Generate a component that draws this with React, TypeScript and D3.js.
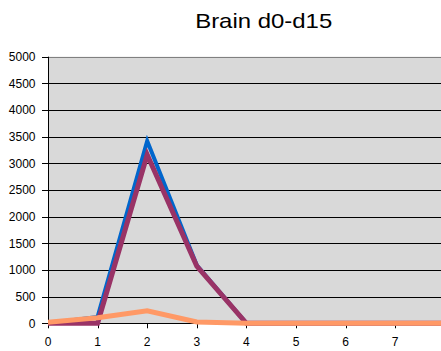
import React from "react";
import * as d3 from "d3";

// Days sampled (x axis) and the three measured series
const days = [0, 1, 2, 3, 4, 5, 6, 7, 8, 9];
const seriesBlue = [0, 120, 3420, 1090, 0, 0, 0, 0, 0, 0];
const seriesPurple = [0, 0, 3160, 1070, 0, 0, 0, 0, 0, 0];
const seriesOrange = [20, 105, 235, 25, 0, 0, 0, 0, 0, 0];
const yTicks = [0, 500, 1000, 1500, 2000, 2500, 3000, 3500, 4000, 4500, 5000];
const xTicks = [0, 1, 2, 3, 4, 5, 6, 7];
const title = "Brain d0-d15";

const W = 441;
const H = 351;
const left = 48;
const top = 56.7;
const bottom = 323.3;
const step = 49.6;

export default function App() {
  const x = d3.scaleLinear().domain([0, 1]).range([left, left + step]);
  const y = d3.scaleLinear().domain([0, 5000]).range([bottom, top]);
  const line = d3
    .line<number>()
    .x((_, i) => x(days[i]))
    .y((v) => y(v));

  const font = "Arial, 'Liberation Sans', sans-serif";

  return (
    <svg
      width={W}
      height={H}
      style={{ position: "absolute", left: 0, top: 0, background: "#fff" }}
      fontFamily={font}
    >
      <defs>
        <clipPath id="plot">
          <rect x={left} y={top - 5} width={W - left} height={bottom - top + 10} />
        </clipPath>
      </defs>
      <rect x={left} y={top} width={W - left} height={bottom - top} fill="#D9D9D9" />
      {yTicks.map((t) => (
        <g key={t}>
          <line
            x1={left}
            x2={W}
            y1={Math.round(y(t)) + 0.5}
            y2={Math.round(y(t)) + 0.5}
            stroke={t === 5000 ? "#808080" : "#000"}
            strokeWidth={1}
          />
          <line
            x1={left - 6}
            x2={left}
            y1={Math.round(y(t)) + 0.5}
            y2={Math.round(y(t)) + 0.5}
            stroke="#000"
          />
          <text
            x={35.5}
            y={y(t) + 4.3}
            textAnchor="end"
            fontSize={12}
            fill="#000"
          >
            {t}
          </text>
        </g>
      ))}
      <line x1={left + 0.5} x2={left + 0.5} y1={top} y2={bottom} stroke="#000" />
      {xTicks.map((t) => (
        <g key={t}>
          <line
            x1={Math.round(x(t)) + 0.5}
            x2={Math.round(x(t)) + 0.5}
            y1={bottom}
            y2={bottom + 5}
            stroke="#000"
          />
          <text x={x(t)} y={346} textAnchor="middle" fontSize={12} fill="#000">
            {t}
          </text>
        </g>
      ))}
      <g clipPath="url(#plot)" fill="none" strokeLinejoin="miter">
        <path d={line(seriesBlue) ?? ""} stroke="#0066CC" strokeWidth={4} />
        <path d={line(seriesPurple) ?? ""} stroke="#993366" strokeWidth={5} />
        <path d={line(seriesOrange) ?? ""} stroke="#FF9966" strokeWidth={5} />
      </g>
      <text
        x={263.7}
        y={27.7}
        textAnchor="middle"
        fontSize={21}
        textLength={137}
        lengthAdjust="spacingAndGlyphs"
        fill="#000"
      >
        {title}
      </text>
    </svg>
  );
}
